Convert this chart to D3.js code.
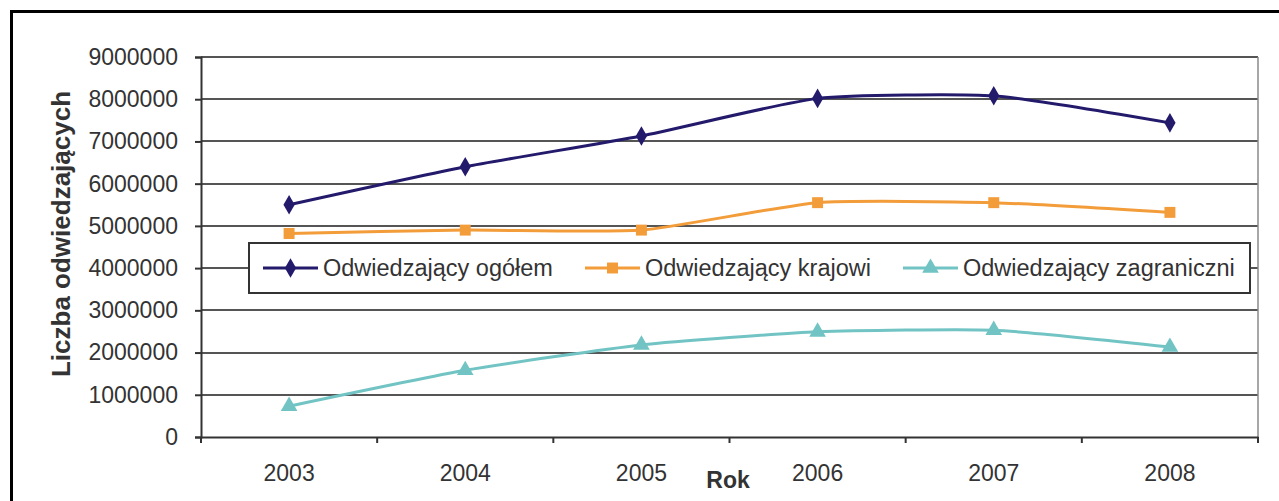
<!DOCTYPE html>
<html>
<head>
<meta charset="utf-8">
<script src="https://cdn.jsdelivr.net/npm/d3@7"></script>
<style>
  html, body { margin: 0; padding: 0; background: #fff; }
  svg { display: block; }
  text { font-family: "Liberation Sans", Arial, sans-serif; fill: #333; }
</style>
</head>
<body>
<svg id="chart" width="1279" height="501"></svg>
<script>
const years = ["2003", "2004", "2005", "2006", "2007", "2008"];
const seriesNames = ["Odwiedzający ogółem", "Odwiedzający krajowi", "Odwiedzający zagraniczni"];
const total    = [5500000, 6400000, 7130000, 8020000, 8080000, 7440000];
const domestic = [4820000, 4900000, 4900000, 5550000, 5550000, 5320000];
const foreign  = [730000, 1580000, 2180000, 2490000, 2530000, 2130000];
const yTicks = [0, 1000000, 2000000, 3000000, 4000000, 5000000, 6000000, 7000000, 8000000, 9000000];
const colors = ["#231a6b", "#f39c3a", "#72c4c4"];
const markers = [d3.symbolDiamond, d3.symbolSquare, d3.symbolTriangle];
const markerSizes = [110, 120, 120];
const yTitle = "Liczba odwiedzających";
const xTitle = "Rok";

const svg = d3.select("#chart");
const pLeft = 201, pRight = 1258, pTop = 57, pBottom = 437;

// outer frame (top and left edges visible)
svg.append("line").attr("x1", 10).attr("x2", 1279).attr("y1", 11.5).attr("y2", 11.5)
  .attr("stroke", "#000").attr("stroke-width", 3);
svg.append("line").attr("x1", 11.5).attr("x2", 11.5).attr("y1", 10).attr("y2", 501)
  .attr("stroke", "#000").attr("stroke-width", 3);

const x = d3.scaleBand().domain(years).range([pLeft, pRight]).paddingInner(0).paddingOuter(0);
const y = d3.scaleLinear().domain([0, 9000000]).range([pBottom, pTop]);

// gridlines
svg.append("g").selectAll("line").data(yTicks.filter(d => d > 0)).join("line")
  .attr("x1", pLeft).attr("x2", pRight)
  .attr("y1", d => Math.round(y(d))).attr("y2", d => Math.round(y(d)))
  .attr("stroke", "#555").attr("stroke-width", 2);

// right border of plot area
svg.append("line").attr("x1", pRight).attr("x2", pRight).attr("y1", pTop).attr("y2", pBottom)
  .attr("stroke", "#8a8a8a").attr("stroke-width", 1.5);

// y axis
const yAxis = d3.axisLeft(y).tickValues(yTicks).tickSize(6).tickPadding(17).tickFormat(d3.format("d"));
const gy = svg.append("g").attr("transform", `translate(${pLeft},0)`).call(yAxis);
gy.select(".domain").attr("stroke", "#333").attr("stroke-width", 2);
gy.selectAll(".tick line").attr("stroke", "#333").attr("stroke-width", 2);
gy.selectAll(".tick text").attr("font-size", 23).attr("fill", "#333")
  .style("font-family", '"Liberation Sans", Arial, sans-serif');

// x axis
const xAxis = d3.axisBottom(x).tickSize(0).tickPadding(28);
const gx = svg.append("g").attr("transform", `translate(0,${pBottom})`).call(xAxis);
gx.select(".domain").attr("stroke", "#333").attr("stroke-width", 2);
gx.selectAll(".tick text").attr("font-size", 23).attr("fill", "#333")
  .style("font-family", '"Liberation Sans", Arial, sans-serif');
// category boundary ticks
const bounds = years.map(d => x(d)).concat([x(years[years.length - 1]) + x.bandwidth()]);
gx.append("g").selectAll("line").data(bounds).join("line")
  .attr("x1", d => d).attr("x2", d => d).attr("y1", 0).attr("y2", 6)
  .attr("stroke", "#333").attr("stroke-width", 2);

// axis titles
svg.append("text").attr("transform", `translate(70,234) rotate(-90)`)
  .attr("text-anchor", "middle").attr("font-size", 26).attr("font-weight", "bold")
  .attr("fill", "#333").text(yTitle);
svg.append("text").attr("x", 728).attr("y", 488).attr("text-anchor", "middle")
  .attr("font-size", 23).attr("font-weight", "bold").attr("fill", "#333").text(xTitle);

// series
const cx = d => x(d) + x.bandwidth() / 2;
const data = [total, domestic, foreign];
const line = d3.line().x((d, i) => cx(years[i])).y(d => y(d)).curve(d3.curveCardinal.tension(0.45));
data.forEach((vals, si) => {
  svg.append("path").datum(vals).attr("d", line)
    .attr("fill", "none").attr("stroke", colors[si]).attr("stroke-width", 3);
  svg.append("g").selectAll("path").data(vals).join("path")
    .attr("transform", (d, i) => `translate(${cx(years[i])},${y(d)})`)
    .attr("d", d3.symbol().type(markers[si]).size(markerSizes[si]))
    .attr("fill", colors[si]);
});

// legend
const lg = svg.append("g");
lg.append("rect").attr("x", 249).attr("y", 243).attr("width", 1001).attr("height", 50)
  .attr("fill", "#fff").attr("stroke", "#333").attr("stroke-width", 2);
const legX = [263, 585, 903];
seriesNames.forEach((name, si) => {
  const g = lg.append("g").attr("transform", `translate(${legX[si]},268)`);
  g.append("line").attr("x1", 0).attr("x2", 55).attr("y1", 0).attr("y2", 0)
    .attr("stroke", colors[si]).attr("stroke-width", 3);
  g.append("path").attr("transform", "translate(27.5,0)")
    .attr("d", d3.symbol().type(markers[si]).size(markerSizes[si])).attr("fill", colors[si]);
  g.append("text").attr("x", 60).attr("y", 8).attr("font-size", 23.5).attr("fill", "#333").text(name);
});
</script>
</body>
</html>
